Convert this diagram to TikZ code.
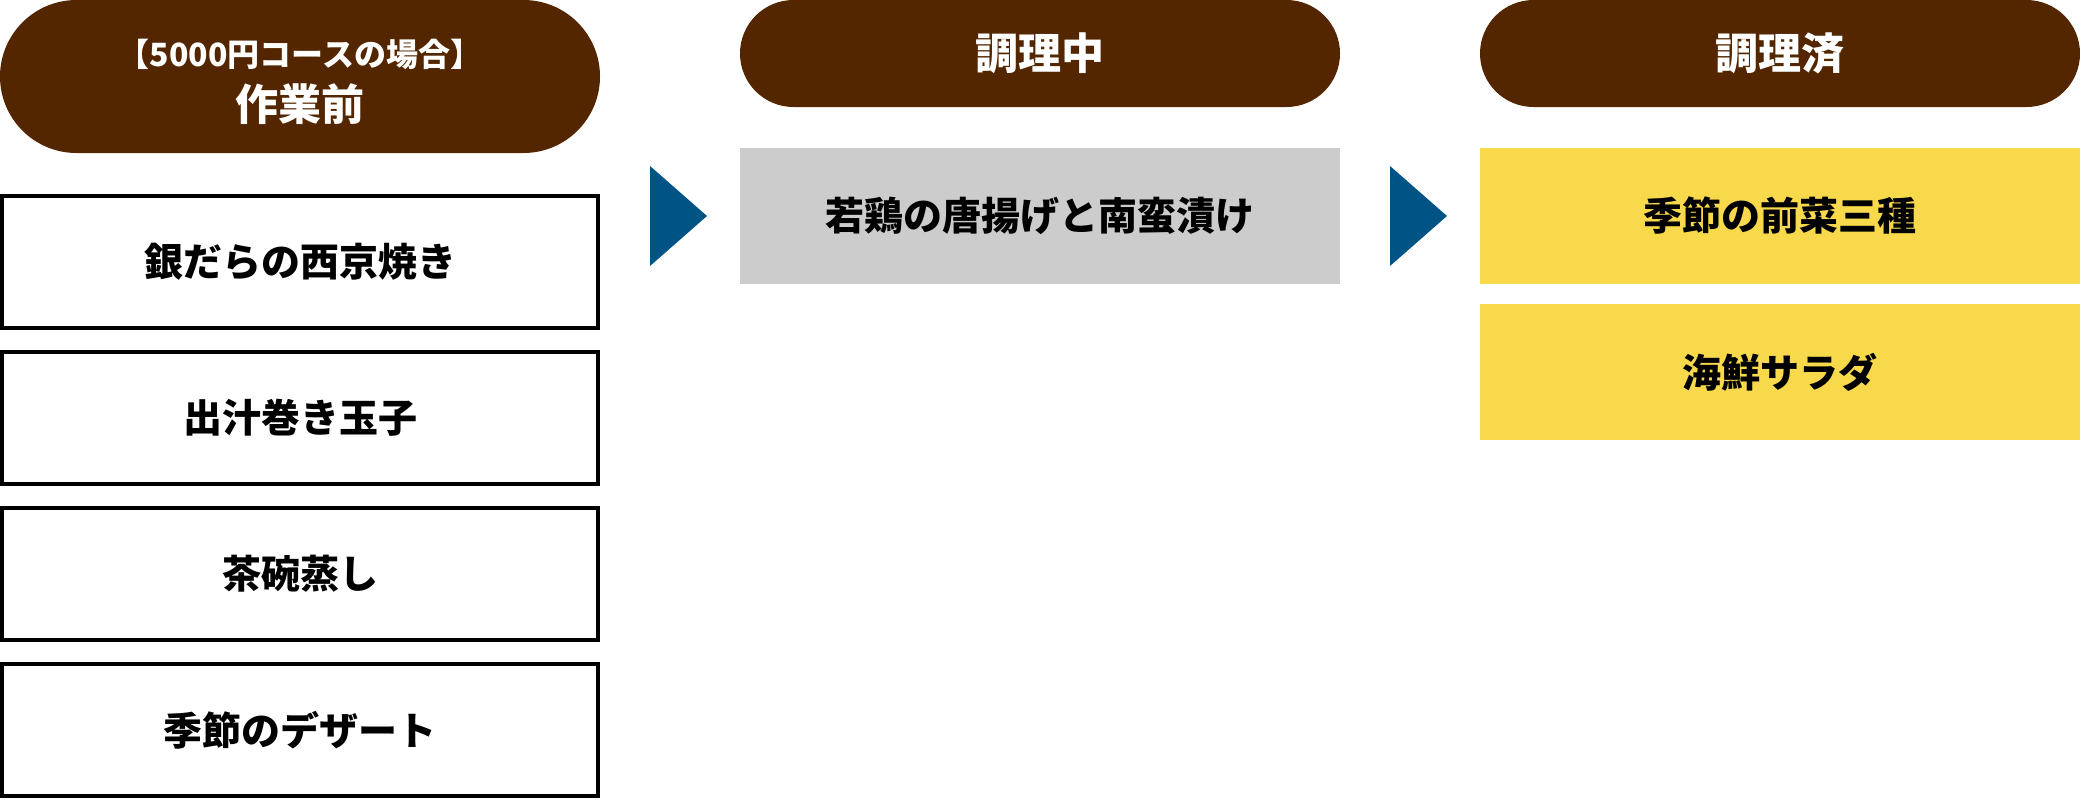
\documentclass[tikz,border=0pt]{standalone}
\usepackage{fontspec}
\setmainfont{Noto Sans CJK JP}
\definecolor{brownc}{HTML}{532600}
\definecolor{grayc}{HTML}{CCCCCC}
\definecolor{yellowc}{HTML}{F8D94B}
\definecolor{bluec}{HTML}{005385}
\newcommand\droptext[1]{\raisebox{-4pt}{#1}}
\tikzset{
  hdr/.style={fill=brownc, draw=none, inner sep=0pt, minimum width=600pt, text=white, font=\bfseries\fontsize{43}{48}\selectfont},
  item/.style={draw=black, line width=4pt, fill=white, inner sep=0pt, minimum width=596pt, minimum height=132pt, font=\bfseries\fontsize{39}{44}\selectfont},
  fillbox/.style={draw=none, inner sep=0pt, minimum width=600pt, minimum height=136pt, font=\bfseries\fontsize{39}{44}\selectfont},
  flowarrow/.style={fill=bluec, draw=none}
}
\begin{document}
\begin{tikzpicture}[x=1pt,y=-1pt]
\useasboundingbox (0,0) rectangle (2080,798);
% headers
\node[hdr, minimum height=153pt, rounded corners=76.5pt] (h1) at (300,76.5) {};
\node[text=white, inner sep=0pt, font=\bfseries\fontsize{32}{36}\selectfont] (h1a) at (300,54) {【5000円コースの場合】};
\node[text=white, inner sep=0pt, font=\bfseries\fontsize{43}{48}\selectfont] (h1b) at (300,104) {作業前};
\node[hdr, minimum height=107pt, rounded corners=53.5pt] (h2) at (1040,53.5) {\raisebox{-3pt}{調理中}};
\node[hdr, minimum height=107pt, rounded corners=53.5pt] (h3) at (1780,53.5) {\raisebox{-3pt}{調理済}};
% left column
\node[item] (a1) at (300,262) {\droptext{銀だらの西京焼き}};
\node[item] (a2) at (300,418) {\droptext{出汁巻き玉子}};
\node[item] (a3) at (300,574) {\droptext{茶碗蒸し}};
\node[item] (a4) at (300,730) {\droptext{季節のデザート}};
% middle
\node[fillbox, fill=grayc] (b1) at (1040,216) {\droptext{若鶏の唐揚げと南蛮漬け}};
% right
\node[fillbox, fill=yellowc] (c1) at (1780,216) {\droptext{季節の前菜三種}};
\node[fillbox, fill=yellowc] (c2) at (1780,372) {\droptext{海鮮サラダ}};
% arrows
\fill[flowarrow] (650,166) -- (650,266) -- (707,216) -- cycle;
\fill[flowarrow] (1390,166) -- (1390,266) -- (1447,216) -- cycle;
\end{tikzpicture}
\end{document}
